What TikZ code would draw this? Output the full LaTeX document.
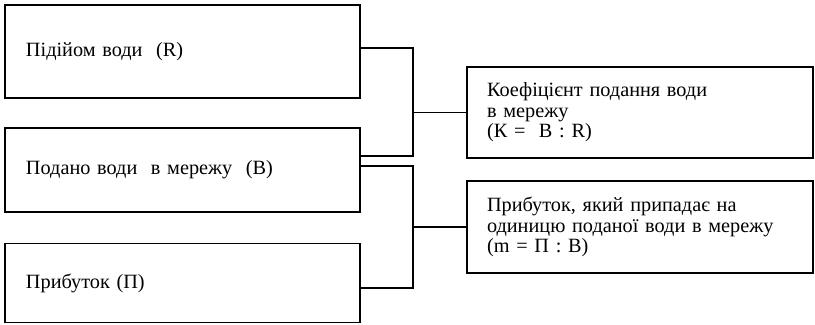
\documentclass[tikz,border=0pt]{standalone}
\usepackage{fontspec}
\setmainfont{Liberation Serif}
\usepackage{tikz}
\usetikzlibrary{positioning,calc}
\tikzset{
  link/.style={black, line width=1.2pt},
  leftbox/.style={draw=black, line width=1.2pt, minimum width=355*0.75pt, text width=313*0.75pt, inner xsep=21*0.75pt, align=left, font=\fontsize{15.2}{15.4}\selectfont},
  rightbox/.style={draw=black, line width=1.2pt, minimum width=346*0.75pt, text width=306*0.75pt, inner xsep=20*0.75pt, align=left, font=\fontsize{15.2}{15.4}\selectfont}
}

\begin{document}
\begin{tikzpicture}[x=0.75pt, y=-0.75pt]
  \useasboundingbox (0,0) rectangle (815,325);
  \node[leftbox, minimum height=93*0.75pt] (lift) at (182.5,51.5) {Підійом води\ \ (R)};
  \node[leftbox, minimum height=84*0.75pt] (supply) at (182.5,170) {Подано води\ \ в мережу\ \ (B)};
  \node[leftbox, minimum height=79*0.75pt] (profit) at (182.5,283) {Прибуток (П)};
  \node[rightbox, minimum height=91*0.75pt] (coef) at (640,112.5) {Коефіцієнт подання води\\в мережу\\(К =\ \ B : R)};
  \node[rightbox, minimum height=92*0.75pt] (unit) at (640,227) {Прибуток, який припадає на\\одиницю поданої води в мережу\\(m = П : B)};
  \coordinate (j1) at (413,112.5);
  \coordinate (j2) at (413,227);
  \draw[link] ([yshift=3.5*0.75pt]lift.east) -| (j1) |- ([yshift=14*0.75pt]supply.east);
  \draw[link] (j1) -- (coef.west);
  \draw[link] ([yshift=4*0.75pt]supply.east) -| (j2) |- ([yshift=-5*0.75pt]profit.east);
  \draw[link] (j2) -- (unit.west);
\end{tikzpicture}
\end{document}
